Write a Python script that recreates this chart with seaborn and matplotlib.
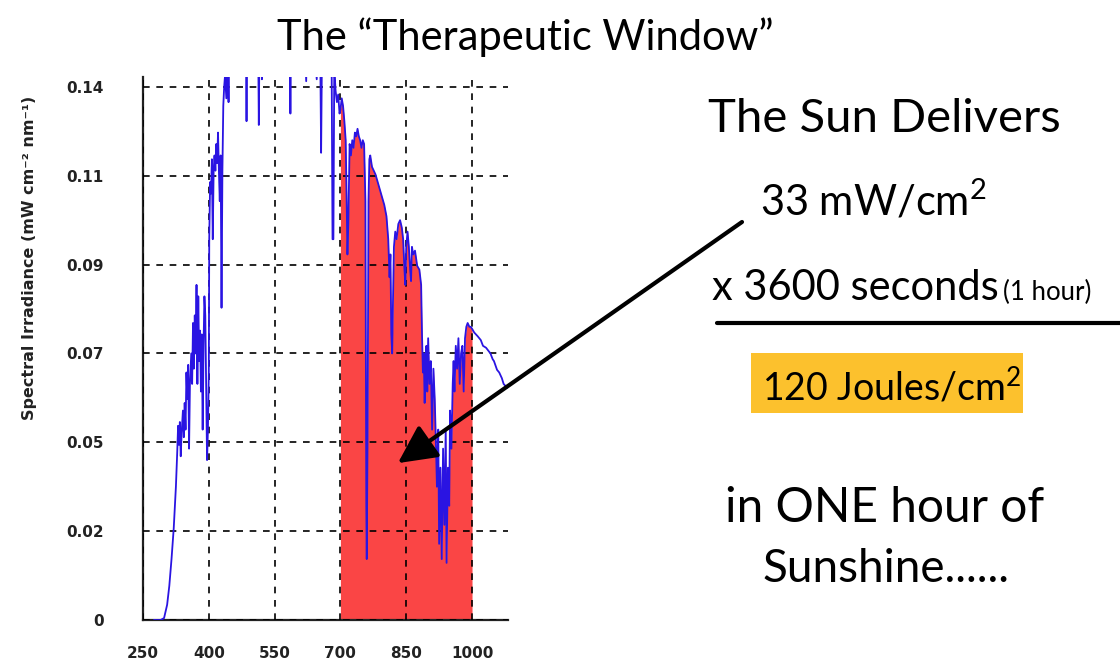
import matplotlib
matplotlib.use("Agg")
import matplotlib.pyplot as plt
from matplotlib.lines import Line2D
from matplotlib.patches import Rectangle
import numpy as np
import seaborn as sns

# solar spectrum (nm, mW cm-2 nm-1)
wavelength = [275, 290, 298, 305, 310, 315, 320, 325, 328, 330, 332, 334, 336, 338,
              341, 343, 345, 347, 349, 351, 353, 355, 357, 360, 362, 364, 366, 368,
              370, 372, 374, 376, 378, 380, 382, 384, 386, 388, 390, 392, 394, 396,
              398, 400, 401, 403, 405, 407, 409, 411, 413, 415, 417, 419, 421, 423,
              425, 427, 429, 431, 433, 435, 437, 440, 443, 445, 447, 450, 470, 484,
              486, 488, 500, 512, 514, 516, 520, 521, 523, 540, 560, 575, 584, 586,
              588, 600, 618, 622, 624, 640, 646, 648, 654, 656, 658, 670, 680, 682,
              684, 686, 689, 692, 695, 698, 700, 703, 706, 709, 712, 714, 716, 718,
              721, 724, 727, 730, 733, 736, 739, 742, 745, 748, 751, 754, 757, 759,
              760, 762, 764, 766, 768, 772, 776, 780, 785, 790, 795, 800, 805, 809,
              812, 814, 816, 818, 820, 822, 825, 828, 832, 836, 840, 843, 846, 848,
              850, 853, 856, 859, 861, 863, 866, 870, 875, 880, 884, 886, 888, 890,
              892, 894, 896, 898, 900, 903, 906, 909, 912, 915, 918, 920, 923, 925,
              928, 931, 934, 937, 940, 942, 945, 948, 950, 953, 956, 958, 960, 963,
              966, 969, 972, 975, 978, 981, 984, 987, 990, 994, 997, 1000, 1005, 1013,
              1020, 1025, 1032, 1042, 1047, 1050, 1057, 1062, 1068, 1072, 1076, 1080]
irradiance = [0.0, 0.0, 0.0005, 0.004, 0.009, 0.016, 0.024, 0.035, 0.044, 0.051, 0.046,
              0.052, 0.043, 0.049, 0.055, 0.048, 0.057, 0.050, 0.065, 0.058, 0.067, 0.045,
              0.062, 0.070, 0.062, 0.078, 0.066, 0.080, 0.070, 0.088, 0.062, 0.085, 0.068,
              0.076, 0.060, 0.075, 0.050, 0.072, 0.085, 0.080, 0.060, 0.042, 0.050, 0.065,
              0.100, 0.115, 0.112, 0.121, 0.100, 0.118, 0.122, 0.118, 0.125, 0.120, 0.128,
              0.118, 0.110, 0.122, 0.082, 0.118, 0.135, 0.140, 0.143, 0.137, 0.150, 0.136,
              0.155, 0.170, 0.175, 0.165, 0.131, 0.165, 0.170, 0.160, 0.130, 0.160, 0.165,
              0.142, 0.165, 0.170, 0.168, 0.165, 0.160, 0.133, 0.160, 0.165, 0.155, 0.1415,
              0.155, 0.152, 0.142, 0.150, 0.150, 0.1227, 0.150, 0.148, 0.146, 0.100, 0.100,
              0.145, 0.139, 0.136, 0.138, 0.133, 0.134, 0.137, 0.135, 0.131, 0.126, 0.112,
              0.096, 0.104, 0.125, 0.122, 0.126, 0.124, 0.128, 0.127, 0.129, 0.127, 0.126,
              0.124, 0.126, 0.125, 0.110, 0.030, 0.016, 0.050, 0.110, 0.121, 0.122, 0.119,
              0.118, 0.117, 0.115, 0.113, 0.111, 0.109, 0.106, 0.100, 0.090, 0.096, 0.075,
              0.070, 0.085, 0.098, 0.102, 0.100, 0.104, 0.105, 0.103, 0.100, 0.092, 0.088,
              0.098, 0.102, 0.098, 0.092, 0.089, 0.098, 0.096, 0.097, 0.093, 0.092, 0.088,
              0.075, 0.065, 0.070, 0.057, 0.068, 0.072, 0.060, 0.074, 0.062, 0.068, 0.050,
              0.066, 0.058, 0.045, 0.035, 0.050, 0.020, 0.040, 0.016, 0.045, 0.025, 0.050,
              0.015, 0.040, 0.030, 0.055, 0.045, 0.062, 0.068, 0.060, 0.072, 0.066, 0.074,
              0.062, 0.070, 0.072, 0.060, 0.074, 0.077, 0.078, 0.077, 0.077, 0.0765, 0.0755,
              0.0745, 0.0735, 0.072, 0.0715, 0.070, 0.0685, 0.068, 0.0657, 0.0650, 0.0635,
              0.062, 0.0615, 0.061]

x_ticks = [250, 400, 550, 700, 850, 1000]
y_ticks = [0, 0.14 / 6, 0.28 / 6, 0.07, 0.56 / 6, 0.70 / 6, 0.14]
y_labels = ["0", "0.02", "0.05", "0.07", "0.09", "0.11", "0.14"]
window = (700, 1000)

sns.set_style("white")
plt.rcParams['font.family'] = ['DejaVu Sans']
plt.rcParams['mathtext.fontset'] = 'custom'
plt.rcParams['mathtext.rm'] = 'Lato'
plt.rcParams['mathtext.it'] = 'Lato'

W, H = 1120, 662
fig = plt.figure(figsize=(W / 100, H / 100), dpi=100)
ax = fig.add_axes([143 / W, 1 - 620 / H, (508 - 143) / W, (620 - 77) / H])

wl = np.array(wavelength)
irr = np.array(irradiance)
inside = (wl >= window[0]) & (wl <= window[1])
ax.fill_between(wl, 0, irr, where=inside, color="#f91c1c", alpha=0.82,
                lw=0, zorder=1)
sns.lineplot(x=wl, y=irr, color="#2a14e2", lw=1.3, estimator=None, sort=False,
             ax=ax, zorder=3)

ax.set_xlim(250, 1082)
ax.set_ylim(0, 0.1426)
ax.set_xticks(x_ticks)
ax.set_xticklabels([str(t) for t in x_ticks])
ax.set_yticks(y_ticks)
ax.set_yticklabels(y_labels)
ax.grid(True, color="black", ls=(0, (4, 4)), lw=1.2, zorder=2)
ax.set_axisbelow(False)
for s in ("top", "right"):
    ax.spines[s].set_visible(False)
for s in ("left", "bottom"):
    ax.spines[s].set_color("#222222")
    ax.spines[s].set_linewidth(1.6)
ax.tick_params(axis="both", direction="inout", length=9, width=1.3, colors="#222222",
               labelsize=11, labelcolor="#222222")
ax.tick_params(axis="y", pad=24)
ax.tick_params(axis="x", pad=14)
for lab in ax.get_xticklabels() + ax.get_yticklabels():
    lab.set_fontweight("bold")
ax.set_xlabel("")
ax.set_ylabel("")

fig.text(30 / W, 1 - 258 / H, "Spectral Irradiance (mW cm\u207b\u00b2 nm\u207b\u00b9)",
         rotation=90, ha="center", va="center", fontsize=11.5, fontweight="bold",
         color="#222222")

ax.annotate("", xy=(831, 0.0412), xycoords="data",
            xytext=(742 / W, 1 - 222 / H), textcoords="figure fraction",
            arrowprops=dict(arrowstyle="-|>,head_length=0.9,head_width=0.45",
                            color="black", lw=3, mutation_scale=26, shrinkA=0, shrinkB=0),
            annotation_clip=False, zorder=5)

big = dict(family="Lato", color="black", va="baseline")
fig.text(525 / W, 1 - 50 / H, "The \u201cTherapeutic Window\u201d", ha="center",
         fontsize=30, **big)
fig.text(708 / W, 1 - 132 / H, "The Sun Delivers", ha="left", fontsize=34, **big)
fig.text(760 / W, 1 - 215 / H, r"33 mW/cm$^{2}$", ha="left", fontsize=30, **big)
fig.text(712 / W, 1 - 300 / H, "x 3600 seconds", ha="left", fontsize=30, **big)
fig.text(1003 / W, 1 - 300 / H, "(1 hour)", ha="left", fontsize=18.5, **big)
fig.add_artist(Line2D([717 / W, 1.0], [1 - 323 / H, 1 - 323 / H], lw=3,
                      color="black", transform=fig.transFigure))
fig.add_artist(Rectangle((751 / W, 1 - 413 / H), 272 / W, 60 / H,
                         transform=fig.transFigure, color="#fcc12d", lw=0))
fig.text(762 / W, 1 - 400 / H, r"120 Joules/cm$^{2}$", ha="left", fontsize=27, **big)
fig.text(725 / W, 1 - 522 / H, "in ONE hour of", ha="left", fontsize=34.5, **big)
fig.text(763 / W, 1 - 582 / H, "Sunshine......", ha="left", fontsize=33, **big)

fig.savefig("out.png", dpi=100)
